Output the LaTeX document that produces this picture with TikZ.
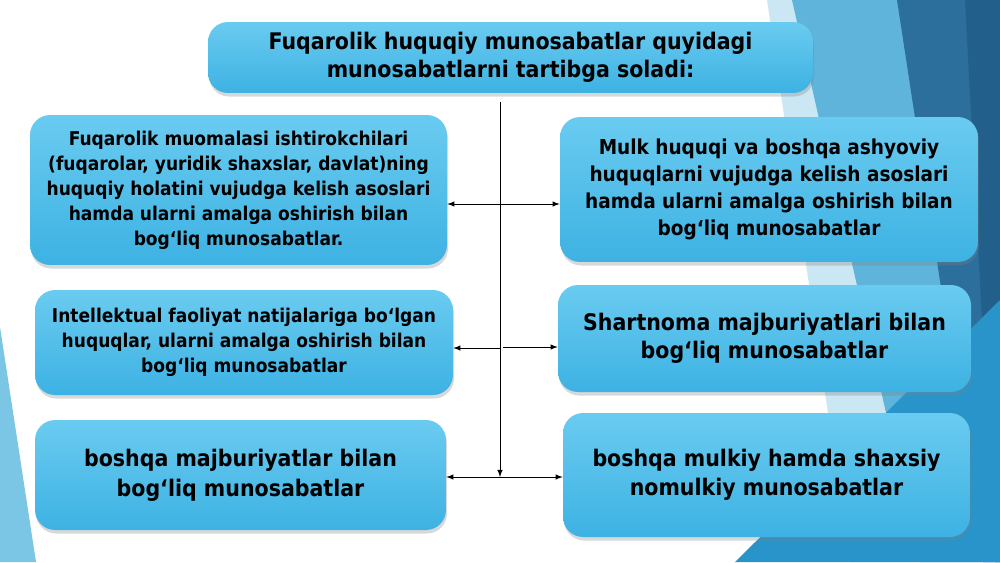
\documentclass[tikz,border=0pt]{standalone}
\usepackage{fontspec}
\setmainfont{DejaVu Sans Condensed}
\usetikzlibrary{shadows}

\definecolor{boxtop}{HTML}{6ACBF0}
\definecolor{boxbot}{HTML}{3DB2E3}
\definecolor{bglight}{HTML}{CBE7F3}
\definecolor{bgmid}{HTML}{5EB4DA}
\definecolor{bgdark}{HTML}{2C6E9C}
\definecolor{bgdeep}{HTML}{235F8B}
\definecolor{bgbright}{HTML}{2894CA}
\definecolor{bgsliver}{HTML}{7CC6E5}

\tikzset{
	>=latex,
	topic/.style={rounded corners=0.4cm, top color=boxtop, bottom color=boxbot,
		drop shadow={shadow xshift=0.6pt, shadow yshift=-2pt, opacity=0.3},
		align=center, inner sep=0pt, font=\bfseries},
	link/.style={thin, black}
}

\begin{document}
\begin{tikzpicture}[x=0.02cm, y=-0.02cm]
	\useasboundingbox (0,0) rectangle (1000,562);
	\fill[white] (0,0) rectangle (1000,562);

	\fill[bglight] (767,0) -- (1000,0) -- (1000,562) -- (850,562) -- cycle;
	\fill[bgmid] (792,0) -- (1000,0) -- (1000,562) -- (920,562) -- cycle;
	\fill[bgdark] (897,0) -- (1000,0) -- (1000,562) -- (983,562) -- cycle;
	\fill[bgdeep] (965,0) -- (1000,0) -- (1000,562) -- (995,562) -- cycle;
	\fill[bgbright] (735,562) -- (1000,300) -- (1000,562) -- cycle;
	\fill[bgsliver] (0,327) -- (36,562) -- (0,562) -- cycle;

	\node[topic, minimum width=12.1cm, minimum height=1.42cm, font=\bfseries\fontsize{13}{16}\selectfont] (title) at (510.5,57.5)
		{Fuqarolik huquqiy munosabatlar quyidagi\\munosabatlarni tartibga soladi:};

	\node[topic, minimum width=8.34cm, minimum height=3.0cm, font=\bfseries\fontsize{10.8}{14.2}\selectfont] (left1) at (238.5,190)
		{Fuqarolik muomalasi ishtirokchilari\\(fuqarolar, yuridik shaxslar, davlat)ning\\huquqiy holatini vujudga kelish asoslari\\hamda ularni amalga oshirish bilan\\bog‘liq munosabatlar.};
	\node[topic, minimum width=8.36cm, minimum height=2.1cm, font=\bfseries\fontsize{10.8}{14.2}\selectfont] (left2) at (244,342.5)
		{Intellektual faoliyat natijalariga bo‘lgan\\huquqlar, ularni amalga oshirish bilan\\bog‘liq munosabatlar};
	\node[topic, minimum width=8.22cm, minimum height=2.2cm, font=\bfseries\fontsize{13}{17}\selectfont] (left3) at (240.5,475)
		{boshqa majburiyatlar bilan\\bog‘liq munosabatlar};

	\node[topic, minimum width=8.36cm, minimum height=2.9cm, font=\bfseries\fontsize{11.7}{15.4}\selectfont] (right1) at (769,189.5)
		{Mulk huquqi va boshqa ashyoviy\\huquqlarni vujudga kelish asoslari\\hamda ularni amalga oshirish bilan\\bog‘liq munosabatlar};
	\node[topic, minimum width=8.26cm, minimum height=2.14cm, font=\bfseries\fontsize{13}{16}\selectfont] (right2) at (764.5,338.5)
		{Shartnoma majburiyatlari bilan\\bog‘liq munosabatlar};
	\node[topic, minimum width=8.14cm, minimum height=2.48cm, font=\bfseries\fontsize{13}{16.5}\selectfont] (right3) at (766.5,475)
		{boshqa mulkiy hamda shaxsiy\\nomulkiy munosabatlar};

	\coordinate (trunktop) at (500,102);
	\coordinate (trunkend) at (500,477);
	\coordinate (fork1) at (500,204);
	\coordinate (fork2) at (500,348);
	\coordinate (fork2r) at (503,347);

	\draw[link,->] (trunktop) -- (trunkend);
	\draw[link,<->] (left1.east |- fork1) -- (right1.west |- fork1);
	\draw[link,->] (fork2) -- (left2.east |- fork2);
	\draw[link,->] (fork2r) -- (right2.west |- fork2r);
	\draw[link,<->] (left3.east |- trunkend) -- (right3.west |- trunkend);
\end{tikzpicture}
\end{document}
